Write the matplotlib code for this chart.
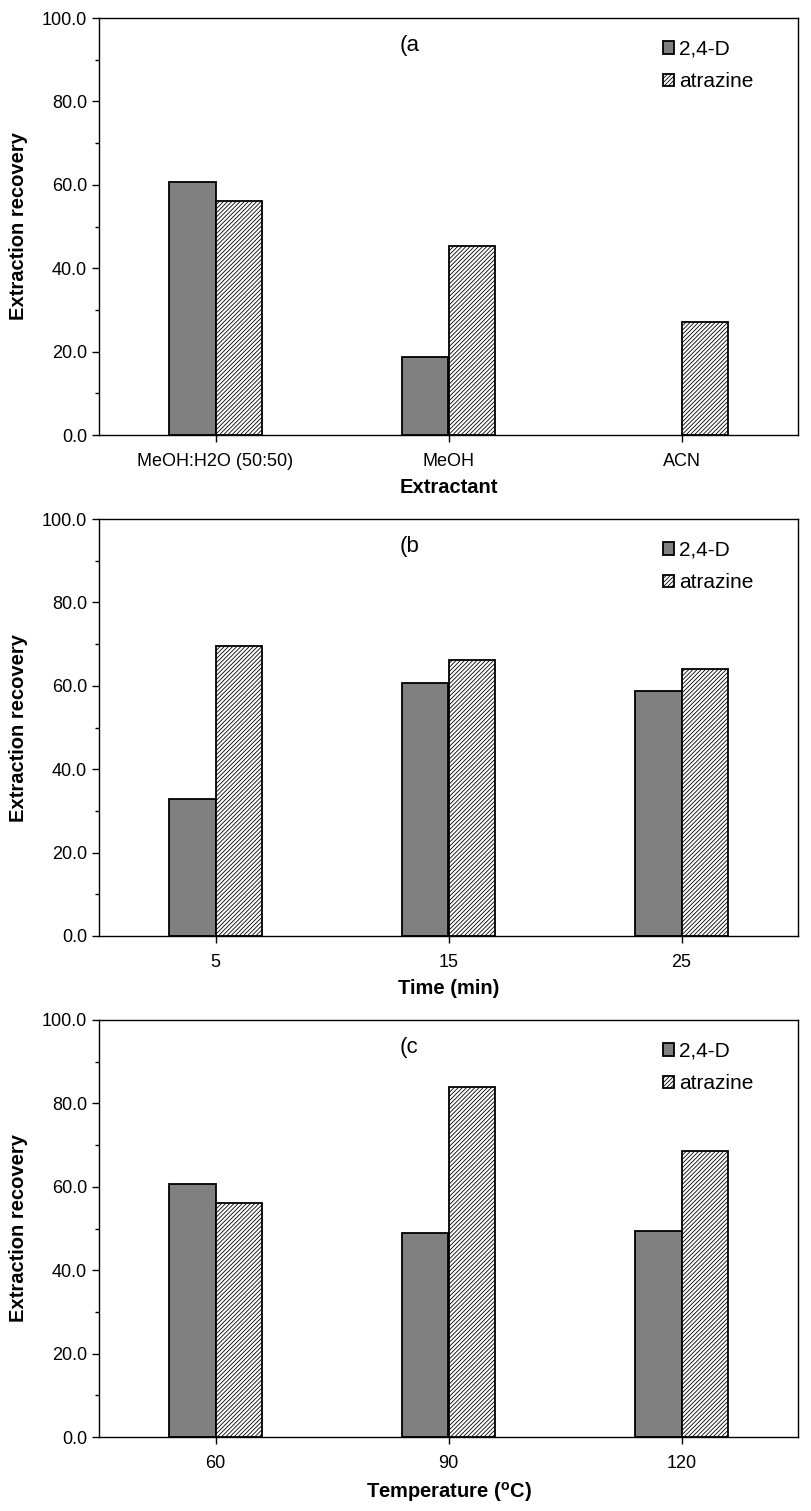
import numpy as np
import matplotlib
matplotlib.use('Agg')
from matplotlib import pyplot as plt
from matplotlib.ticker import MultipleLocator, FormatStrFormatter

plt.rcParams['font.family'] = ['Liberation Sans', 'DejaVu Sans']
plt.rcParams['hatch.color'] = '#9a9a9a'
plt.rcParams['hatch.linewidth'] = 0.6

# data
cats_a = ['MeOH:H2O (50:50)', 'MeOH', 'ACN']
d24_a = [60.7, 18.6, 0.0]
atr_a = [56.2, 45.3, 27.1]

cats_b = ['5', '15', '25']
d24_b = [32.8, 60.6, 58.8]
atr_b = [69.5, 66.3, 64.0]

cats_c = ['60', '90', '120']
d24_c = [60.7, 48.9, 49.4]
atr_c = [56.2, 83.9, 68.6]

panels = [
    ('(a', 'Extractant', cats_a, d24_a, atr_a),
    ('(b', 'Time (min)', cats_b, d24_b, atr_b),
    ('(c', 'Temperature ($\\mathregular{^{o}}$C)', cats_c, d24_c, atr_c),
]

fig = plt.figure(figsize=(8.12, 15.11), dpi=100)
W, H = 812, 1511
tops = [18, 519, 1020]
ax_h = 417
left, right = 99, 798

w = 0.2
for (tag, xlab, cats, d24, atr), top in zip(panels, tops):
    ax = fig.add_axes([left / W, 1 - (top + ax_h) / H, (right - left) / W, ax_h / H])
    x = np.arange(len(cats))
    # zero values draw nothing (as in the original)
    d24_plot = [v if v > 0 else np.nan for v in d24]
    ax.bar(x - w / 2, d24_plot, w, color='#808080', edgecolor='black', linewidth=1.3, label='2,4-D')
    ax.bar(x + w / 2, atr, w, color='white', edgecolor='black', linewidth=1.3,
           hatch='////////', label='atrazine')
    ax.set_xlim(-0.5, len(cats) - 0.5)
    ax.set_ylim(0, 100)
    ax.set_xticks(x)
    ax.set_xticklabels(cats)
    ax.yaxis.set_major_locator(MultipleLocator(20))
    ax.yaxis.set_minor_locator(MultipleLocator(10))
    ax.yaxis.set_major_formatter(FormatStrFormatter('%.1f'))
    ax.tick_params(axis='both', direction='out', labelsize=13, length=5, width=1)
    ax.tick_params(axis='x', pad=8)
    ax.tick_params(axis='y', which='minor', direction='out', length=3, width=1)
    ax.set_ylabel('Extraction recovery', fontsize=14.5, fontweight='bold', labelpad=10)
    ax.set_xlabel(xlab, fontsize=14.5, fontweight='bold', labelpad=6)
    for sp in ax.spines.values():
        sp.set_linewidth(1)
    ax.text(0.43, 0.935, tag, transform=ax.transAxes, fontsize=16, va='center')
    ax.legend(loc='upper left', bbox_to_anchor=(0.795, 0.968), borderaxespad=0, frameon=False,
              fontsize=15, handlelength=0.55, handleheight=0.55, handletextpad=0.2,
              labelspacing=0.65)

fig.savefig('out.png', dpi=100)
